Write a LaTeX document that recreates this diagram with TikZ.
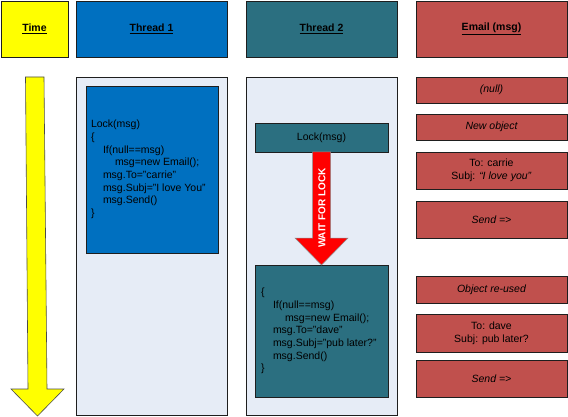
\documentclass[tikz,border=0pt]{standalone}
\usepackage{fontspec}
\setmainfont{Liberation Sans}
\usetikzlibrary{calc}
\definecolor{tyellow}{HTML}{FFFF00}
\definecolor{tblue}{HTML}{0070C0}
\definecolor{tteal}{HTML}{2B6F80}
\definecolor{tred}{HTML}{C0504D}
\definecolor{tpanel}{HTML}{E6ECF6}
\definecolor{tline}{HTML}{1E1E1E}
\begin{document}
\begin{tikzpicture}[x=1pt,y=-1pt,
  base/.style={draw=tline, line width=0.8pt, inner sep=0pt, outer sep=0pt,
    font=\fontsize{10.5}{12.7}\selectfont, text=black},
  hdr/.style={base, font=\fontsize{10.5}{12.7}\selectfont\bfseries, minimum height=56pt},
  panel/.style={base, fill=tpanel, minimum width=151pt, minimum height=338.5pt},
  ebox/.style={base, fill=tred, minimum width=151pt, align=center},
  code/.style={inner sep=0pt, outer sep=0pt, anchor=west, align=left,
    font=\fontsize{10.5}{12.7}\selectfont, text=black},
  indA/.style={},
]
\useasboundingbox (0,0) rectangle (568,417);

% headers
\node[hdr, fill=tyellow, minimum width=67pt]  (htime)  at (34.5,29)  {\underline{Time}};
\node[hdr, fill=tblue,   minimum width=151pt] (hth1)   at (151.5,29) {\underline{Thread 1}};
\node[hdr, fill=tteal,   minimum width=151pt] (hth2)   at (321.5,29) {\underline{Thread 2}};
\node[hdr, fill=tred,    minimum width=151pt] (hemail) at (491.5,29) {\underline{Email (msg)}};

% time arrow
\draw[draw=tline!80, line width=0.6pt, fill=tyellow]
  (25.5,77) -- (28,389) -- (11,389) -- (37.5,416) -- (64,389) -- (47,389) -- (44,77) -- cycle;

% lane panels
\node[panel] (p1) at (151.5,246.25) {};
\node[panel] (p2) at (321.5,246.25) {};

% thread 1 code
\node[base, fill=tblue, minimum width=132pt, minimum height=167pt] (code1) at (152,169.5) {};
\node[code] (code1t) at (91,169.5) {Lock(msg)\\
{\{}\\
\hspace*{12pt}If(null==msg)\\
\hspace*{24pt}msg=new Email();\\
\hspace*{12pt}msg.To=”carrie”\\
\hspace*{12pt}msg.Subj=”I love You”\\
\hspace*{12pt}msg.Send()\\
\}};

% thread 2
\node[base, fill=tteal, minimum width=133pt, minimum height=29pt] (lock) at (321.5,137.5) {Lock(msg)};
\node[base, fill=tteal, minimum width=133pt, minimum height=132pt] (code2) at (321.5,331) {};
\node[code] (code2t) at (261,331) {\{\\
\hspace*{12pt}If(null==msg)\\
\hspace*{24pt}msg=new Email();\\
\hspace*{12pt}msg.To=”dave”\\
\hspace*{12pt}msg.Subj=”pub later?”\\
\hspace*{12pt}msg.Send()\\
\}};

% wait arrow
\draw[draw=black!45, line width=0.5pt, fill=red]
  ([xshift=-9pt]lock.south) -- ([xshift=-9pt,yshift=27pt]code2.north)
  -- ([xshift=-26.5pt,yshift=27pt]code2.north) -- (code2.north)
  -- ([xshift=26.5pt,yshift=27pt]code2.north) -- ([xshift=9pt,yshift=27pt]code2.north)
  -- ([xshift=9pt]lock.south) -- cycle;
\node[rotate=90, text=white, inner sep=0pt, font=\fontsize{10}{12}\selectfont\bfseries] (wait) at (322,208) {WAIT FOR LOCK};

% email states
\node[ebox, minimum height=26pt] (e1) at (491.5,90)    {\itshape (null)};
\node[ebox, minimum height=26pt] (e2) at (491.5,127)   {\itshape New object};
\node[ebox, minimum height=37pt] (e3) at (491.5,170.5) {To: carrie\\Subj: \textit{“I love you”}};
\node[ebox, minimum height=37pt] (e4) at (491.5,219.5) {\itshape Send =>};
\node[ebox, minimum height=27pt] (e5) at (491.5,289.5) {\itshape Object re-used};
\node[ebox, minimum height=38pt] (e6) at (491.5,333)   {To: dave\\Subj: pub later?};
\node[ebox, minimum height=37pt] (e7) at (491.5,378.5) {\itshape Send =>};
\end{tikzpicture}
\end{document}
